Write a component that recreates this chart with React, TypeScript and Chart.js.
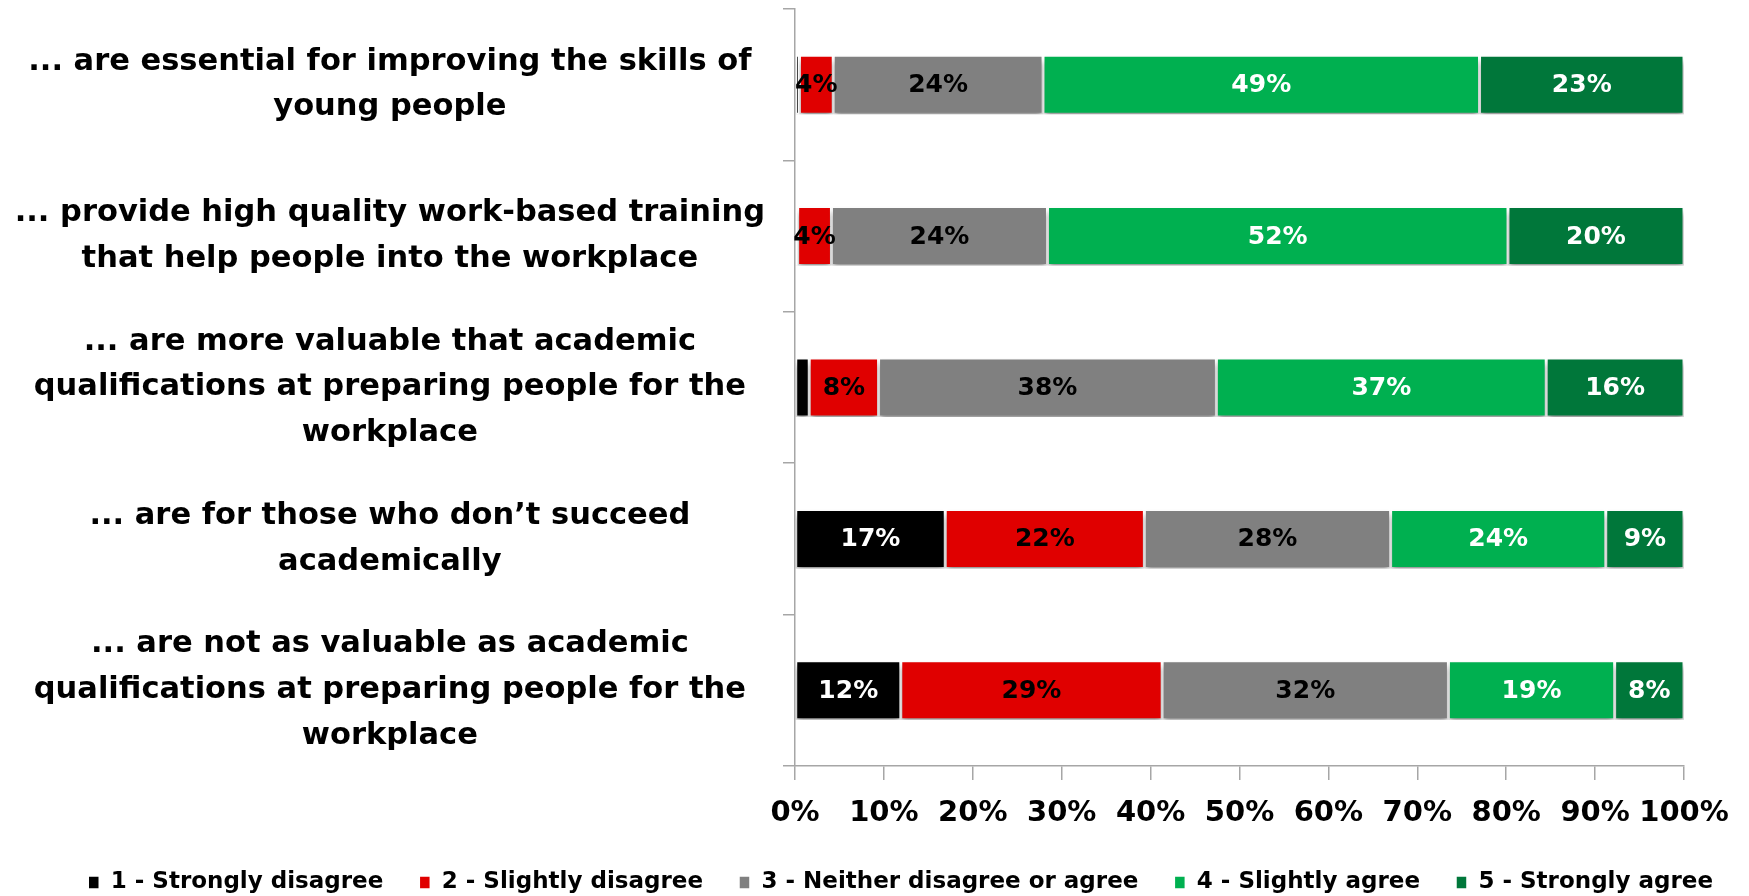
import { useEffect, useRef } from "react";
import { Chart, registerables } from "chart.js";
Chart.register(...registerables);

const categories: string[][] = [
  ["... are essential for improving the skills of", "young people"],
  ["... provide high quality work-based training", "that help people into the workplace"],
  ["... are more valuable that academic", "qualifications at preparing people for the", "workplace"],
  ["... are for those who don\u2019t succeed", "academically"],
  ["... are not as valuable as academic", "qualifications at preparing people for the", "workplace"],
];

const seriesNames = [
  "1 - Strongly disagree",
  "2 - Slightly disagree",
  "3 - Neither disagree or agree",
  "4 - Slightly agree",
  "5 - Strongly agree",
];

const strongDisagree = [0.5, 0.3, 1.6, 16.9, 11.9];
const slightDisagree = [3.8, 3.8, 7.8, 22.4, 29.4];
const neither = [23.6, 24.3, 38.0, 27.7, 32.2];
const slightAgree = [49.1, 51.8, 37.1, 24.2, 18.7];
const strongAgree = [23.0, 19.8, 15.5, 8.8, 7.8];

const xTickValues = [0, 10, 20, 30, 40, 50, 60, 70, 80, 90, 100];
const xTickLabels = ["0%", "10%", "20%", "30%", "40%", "50%", "60%", "70%", "80%", "90%", "100%"];

const seriesColors = ["#000000", "#E00000", "#808080", "#00B050", "#00773A"];
const labelColors = ["#FFFFFF", "#000000", "#000000", "#FFFFFF", "#FFFFFF"];

const FONT = "'DejaVu Sans', 'Liberation Sans', Arial, sans-serif";

const barDecor = {
  id: "barDecor",
  beforeDatasetsDraw(chart: any) {
    const ctx = chart.ctx;
    ctx.save();
    ctx.shadowColor = "rgba(0,0,0,0.4)";
    ctx.shadowBlur = 6;
    ctx.shadowOffsetX = 0;
    ctx.shadowOffsetY = 5;
  },
  afterDatasetsDraw(chart: any) {
    const ctx = chart.ctx;
    ctx.restore();
    ctx.save();
    ctx.font = `bold 25px ${FONT}`;
    ctx.textAlign = "center";
    ctx.textBaseline = "middle";
    chart.data.datasets.forEach((ds: any, di: number) => {
      const meta = chart.getDatasetMeta(di);
      meta.data.forEach((el: any, i: number) => {
        const v = ds.data[i];
        if (v < 3) return;
        const p = el.getCenterPoint();
        ctx.fillStyle = labelColors[di];
        ctx.fillText(`${Math.round(v)}%`, p.x, p.y + 1);
      });
    });
    ctx.restore();
  },
};

export default function App() {
  const ref = useRef<HTMLCanvasElement | null>(null);
  useEffect(() => {
    document.body.style.margin = "0";
    const values = [strongDisagree, slightDisagree, neither, slightAgree, strongAgree];
    const chart = new Chart(ref.current as HTMLCanvasElement, {
      type: "bar",
      data: {
        labels: categories,
        datasets: values.map((d, i) => ({
          label: seriesNames[i],
          data: d,
          backgroundColor: seriesColors[i],
          borderColor: "#FFFFFF",
          borderWidth: 1.5,
          borderSkipped: false,
          barPercentage: 0.39,
          categoryPercentage: 1,
        })),
      },
      options: {
        indexAxis: "y",
        animation: false,
        responsive: false,
        devicePixelRatio: 1,
        layout: { padding: { top: 9, right: 0, left: 0, bottom: -8 } },
        scales: {
          x: {
            stacked: true,
            min: 0,
            max: 100,
            afterBuildTicks: (scale: any) => {
              scale.ticks = xTickValues.map((v) => ({ value: v }));
            },
            afterFit: (scale: any) => {
              scale.height = 69;
              scale.paddingRight = 65;
            },
            grid: {
              drawOnChartArea: false,
              drawTicks: true,
              tickLength: 14,
              color: "#A6A6A6",
              lineWidth: 1.5,
            },
            border: { display: true, color: "#A6A6A6", width: 1.5 },
            ticks: {
              color: "#000000",
              padding: 16,
              maxRotation: 0,
              autoSkip: false,
              font: { family: FONT, weight: "bold", size: 29 },
              callback: (_v: any, i: number) => xTickLabels[i],
            },
          },
          y: {
            stacked: true,
            afterFit: (scale: any) => {
              scale.width = 795;
              scale.paddingTop = 0;
              scale.paddingBottom = 0;
            },
            grid: {
              drawOnChartArea: false,
              drawTicks: true,
              tickLength: 12,
              offset: true,
              color: "#A6A6A6",
              lineWidth: 1.5,
            },
            border: { display: true, color: "#A6A6A6", width: 1.5 },
            ticks: {
              color: "#000000",
              crossAlign: "center",
              padding: 18,
              autoSkip: false,
              font: { family: FONT, weight: "bold", size: 30.5, lineHeight: 1.5 },
            },
          },
        },
        plugins: {
          legend: {
            position: "bottom",
            align: "end",
            labels: {
              color: "#000000",
              boxWidth: 11,
              boxHeight: 13,
              padding: 36,
              font: { family: FONT, weight: "bold", size: 23 },
            },
          },
          tooltip: { enabled: false },
        },
      },
      plugins: [barDecor],
    } as any);
    return () => chart.destroy();
  }, []);
  return (
    <div style={{ width: 1749, height: 896 }}>
      <canvas ref={ref} width={1749} height={896} style={{ width: 1749, height: 896, display: "block" }} />
    </div>
  );
}
